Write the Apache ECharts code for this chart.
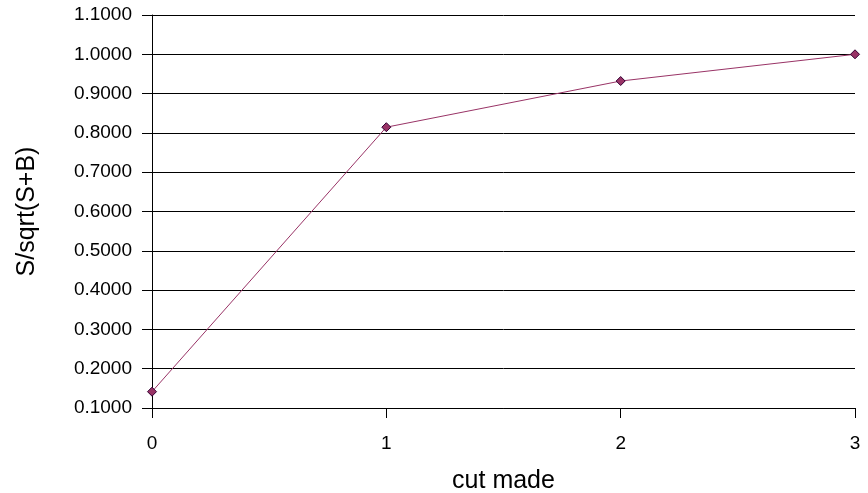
<!DOCTYPE html>
<html>
<head>
<meta charset="utf-8">
<script src="https://cdn.jsdelivr.net/npm/echarts@6/dist/echarts.min.js"></script>
<style>
html,body{margin:0;padding:0;background:#fff;}
#chart{width:868px;height:493px;}
</style>
</head>
<body>
<div id="chart"></div>
<script>
// Cut index and the resulting significance S/sqrt(S+B)
const cuts = [0, 1, 2, 3];
const significance = [0.1415, 0.8145, 0.9320, 1.0000];
const yTicks = [0.1, 0.2, 0.3, 0.4, 0.5, 0.6, 0.7, 0.8, 0.9, 1.0, 1.1];

const chart = echarts.init(document.getElementById('chart'), null, {renderer: 'canvas'});
const font = 'Liberation Sans, Arial, sans-serif';

chart.setOption({
  animation: false,
  backgroundColor: '#ffffff',
  grid: {left: 152, right: 13, top: 15, bottom: 85, containLabel: false, outerBoundsMode: 'none'},
  xAxis: {
    type: 'value',
    min: 0, max: 3, interval: 1,
    name: 'cut made',
    nameLocation: 'middle',
    nameGap: 61,
    nameTextStyle: {fontFamily: font, fontSize: 25, color: '#000'},
    axisLine: {onZero: false, lineStyle: {color: '#000', width: 1}},
    axisTick: {show: true, inside: false, length: 10, lineStyle: {color: '#000'}},
    axisLabel: {fontFamily: font, fontSize: 19, color: '#000', margin: 26},
    splitLine: {show: false}
  },
  yAxis: {
    type: 'value',
    min: 0.1, max: 1.1, interval: 0.1,
    name: 'S/sqrt(S+B)',
    nameLocation: 'middle',
    nameGap: 112,
    nameRotate: 90,
    nameTextStyle: {fontFamily: font, fontSize: 25, color: '#000'},
    axisLine: {show: true, lineStyle: {color: '#000', width: 1}},
    axisTick: {show: true, inside: false, length: 10, lineStyle: {color: '#000'}},
    axisLabel: {
      fontFamily: font, fontSize: 19, color: '#000', margin: 20,
      formatter: v => {
        const t = yTicks.find(x => Math.abs(x - v) < 1e-6);
        return (t !== undefined ? t : v).toFixed(4);
      }
    },
    splitLine: {show: true, lineStyle: {color: '#000', width: 1}}
  },
  series: [{
    type: 'line',
    data: cuts.map((c, i) => [c, significance[i]]),
    symbol: 'diamond',
    symbolSize: 9,
    lineStyle: {color: '#993366', width: 1},
    itemStyle: {color: '#993366', borderColor: '#330033', borderWidth: 1},
    z: 5
  }]
});
</script>
</body>
</html>
